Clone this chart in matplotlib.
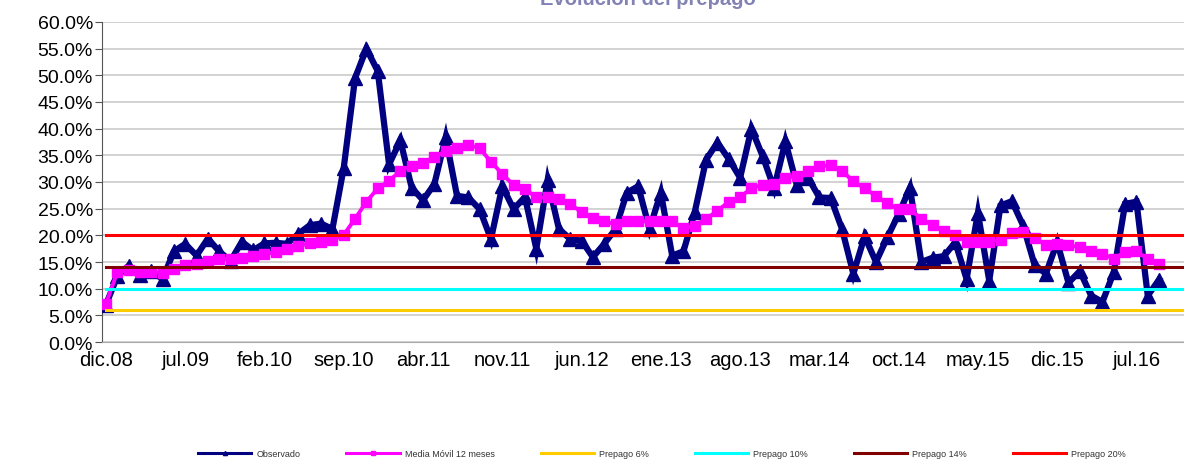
import matplotlib
matplotlib.use("Agg")
import matplotlib.pyplot as plt
from matplotlib.lines import Line2D
import numpy as np

plt.rcParams['font.family'] = ['Liberation Sans', 'DejaVu Sans']

# ---- data ----
tick_labels = ["dic.08", "jul.09", "feb.10", "sep.10", "abr.11", "nov.11", "jun.12",
               "ene.13", "ago.13", "mar.14", "oct.14", "may.15", "dic.15", "jul.16"]

observado = [7.0, 12.3, 14.3, 12.5, 13.3, 11.8, 17.0, 18.4, 16.2, 19.4,
             17.0, 15.2, 18.8, 17.2, 18.5, 18.6, 18.4, 20.3, 21.9, 22.2,
             21.2, 32.7, 49.5, 55.0, 50.8, 33.3, 37.8, 28.9, 26.6, 29.6,
             38.4, 27.4, 27.1, 24.9, 19.3, 29.2, 24.9, 27.2, 17.5, 30.3,
             21.2, 19.3, 19.0, 15.9, 18.4, 21.2, 28.0, 29.2, 21.2, 28.0,
             16.2, 17.0, 24.4, 34.2, 37.4, 34.3, 30.8, 40.0, 34.8, 28.8,
             37.6, 29.5, 30.8, 27.1, 27.0, 21.2, 12.8, 19.8, 15.0, 19.6,
             24.0, 28.9, 15.0, 15.8, 16.1, 18.7, 11.8, 24.2, 11.5, 25.6,
             26.4, 21.8, 14.5, 12.8, 18.7, 11.1, 13.3, 8.7, 7.5, 13.1,
             25.9, 26.3, 8.7, 11.7]

media_movil = [7.2, 13.1, 13.5, 13.2, 13.1, 13.0, 13.7, 14.4, 14.6, 15.2,
               15.5, 15.6, 15.7, 16.1, 16.5, 16.8, 17.4, 18.0, 18.5, 18.8,
               19.1, 20.1, 23.1, 26.3, 28.8, 30.2, 32.1, 33.0, 33.6, 34.7,
               35.8, 36.4, 37.0, 36.3, 33.8, 31.5, 29.4, 28.7, 27.1, 27.1,
               26.8, 25.9, 24.3, 23.2, 22.6, 22.1, 22.7, 22.7, 22.6, 22.6,
               22.6, 21.3, 21.8, 23.1, 24.6, 26.3, 27.2, 28.8, 29.5, 29.6,
               30.7, 31.2, 32.1, 33.0, 33.1, 32.1, 30.1, 28.8, 27.4, 26.0,
               24.9, 24.9, 23.1, 21.9, 20.9, 20.1, 18.8, 18.8, 18.7, 19.2,
               20.4, 20.6, 19.5, 18.2, 18.4, 18.1, 17.8, 17.0, 16.5, 15.6,
               16.9, 17.0, 15.6, 14.6]

prepago_levels = [6, 10, 14, 20]
prepago_labels = ["Prepago 6%", "Prepago 10%", "Prepago 14%", "Prepago 20%"]
prepago_colors = ["#FFCC00", "#00FFFF", "#800000", "#FF0000"]

# ---- figure ----
fig = plt.figure(figsize=(11.84, 4.60), dpi=100)
ax = fig.add_axes([102/1184, 1 - 343/460, 1 - 102/1184, (343 - 23)/460])

x = np.arange(len(observado))
xmax = 95.2

ax.plot(x, observado, color="#000080", lw=4.5, marker="^", markersize=9.5,
        markeredgecolor="#000080", zorder=3, solid_joinstyle="miter")
ax.plot(x, media_movil, color="#FF00FF", lw=2.8, marker="s", markersize=6.5,
        markeredgecolor="#FF00FF", zorder=4)
for lvl, col in zip(prepago_levels, prepago_colors):
    ax.plot([0, xmax + 1], [lvl, lvl], color=col, lw=2.2, zorder=5)

ax.set_xlim(-0.35, xmax)
ax.set_ylim(0, 60)
ax.set_yticks(np.arange(0, 61, 5))
ax.set_yticklabels([f"{v:.1f}%" for v in np.arange(0, 61, 5)])
ax.set_xticks(np.arange(0, 7 * len(tick_labels), 7))
ax.set_xticklabels(tick_labels)
ax.yaxis.grid(True, color="#CFCFCF", lw=1.3, zorder=0)
ax.set_axisbelow(True)

for s in ["top", "right"]:
    ax.spines[s].set_visible(False)
ax.spines["left"].set_color("#555555")
ax.spines["bottom"].set_color("#AAAAAA")
ax.tick_params(axis="y", labelsize=14, length=5, color="#555555", pad=1.5)
ax.tick_params(axis="x", labelsize=14.5, length=0, pad=6)

# title (partially cut off at the top, as in the original)
fig.text(648/1184, 1 - 5/460, "Evolución del prepago", ha="center", va="baseline",
         fontsize=14.5, fontweight="bold", color="#8282B4")

# legend
handles = [
    Line2D([], [], color="#000080", lw=2.2, marker="^", markersize=3),
    Line2D([], [], color="#FF00FF", lw=2.2, marker="s", markersize=3),
]
for col in prepago_colors:
    handles.append(Line2D([], [], color=col, lw=2.2))
labels = ["Observado", "Media Móvil 12 meses"] + prepago_labels
fig.legend(handles, labels, loc="center", bbox_to_anchor=(662/1184, 1 - 455/460),
           ncol=6, frameon=False, fontsize=6.5, handlelength=5.9, handletextpad=0.55,
           columnspacing=5.1, labelcolor="#333333", borderaxespad=0, borderpad=0)

fig.savefig("out.png", dpi=100)
